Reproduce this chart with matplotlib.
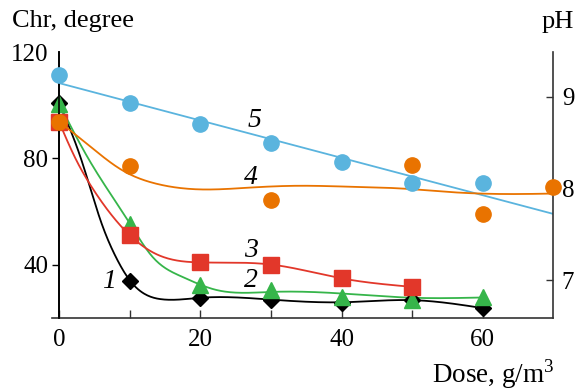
import numpy as np
import matplotlib
matplotlib.use("Agg")
import matplotlib.pyplot as plt

plt.rcParams['font.family'] = ['Liberation Serif', 'DejaVu Serif']
plt.rcParams['mathtext.fontset'] = 'custom'
plt.rcParams['mathtext.rm'] = 'Liberation Serif'

# measured points, Chr (left axis)
dose = [0, 10, 20, 30, 40, 50, 60]
chr1 = [100.7, 33.9, 27.3, 26.6, 25.6, 26.7, 23.5]
chr2 = [100.4, 55.4, 32.3, 30.4, 27.9, 26.6, 27.6]
dose3 = [0, 10, 20, 30, 40, 50]
chr3 = [93.5, 51.0, 40.8, 40.0, 34.8, 31.6]

# measured points, pH (right axis)
dose4 = [0, 10, 30, 50, 60, 70]
ph4 = [8.73, 8.243, 7.872, 8.254, 7.72, 8.02]
ph5 = [9.236, 8.934, 8.70, 8.497, 8.29, 8.055, 8.055]

# smoothed curves
c1_x = [0, 3, 6, 8, 10, 14.6, 20, 30, 40, 50, 60]
c1_y = [100.5, 80.4, 55.4, 42.9, 34, 26.9, 27.5, 26.8, 25.8, 26.6, 23.6]
c2_x = [0, 4, 10, 13.2, 17.4, 22, 30, 40, 50, 60]
c2_y = [100.4, 80.4, 55.4, 42.9, 35.4, 30.6, 29.7, 29.1, 27.5, 27.6]
c3_x = [0, 2.2, 4.9, 10, 13.6, 20, 30, 40, 50]
c3_y = [93.5, 80.4, 67.9, 51, 44.1, 40.8, 40, 34.8, 31.6]
c4_x = [0, 4.2, 8.9, 13.6, 20, 27, 34, 41, 48.5, 55.6, 62.7, 70]
c4_y = [8.73, 8.47, 8.20, 8.055, 7.99, 8.01, 8.03, 8.02, 8.0, 7.96, 7.94, 7.945]

labels = ['1', '2', '3', '4', '5']
label_pos = [(7.0, 33.5), (27.2, 34.1), (27.2, 45.4), (27.2, 72.9), (27.7, 94.4)]


def spline(xk, yk, n=400):
    # natural cubic spline
    xk = np.asarray(xk, float)
    yk = np.asarray(yk, float)
    h = np.diff(xk)
    m = len(xk)
    A = np.zeros((m, m))
    b = np.zeros(m)
    A[0, 0] = A[-1, -1] = 1
    for i in range(1, m - 1):
        A[i, i - 1] = h[i - 1]
        A[i, i] = 2 * (h[i - 1] + h[i])
        A[i, i + 1] = h[i]
        b[i] = 6 * ((yk[i + 1] - yk[i]) / h[i] - (yk[i] - yk[i - 1]) / h[i - 1])
    M = np.linalg.solve(A, b)
    xs = np.linspace(xk[0], xk[-1], n)
    j = np.clip(np.searchsorted(xk, xs) - 1, 0, m - 2)
    t0 = xk[j + 1] - xs
    t1 = xs - xk[j]
    hj = h[j]
    ys = (M[j] * t0**3 + M[j + 1] * t1**3) / (6 * hj) \
        + (yk[j] / hj - M[j] * hj / 6) * t0 + (yk[j + 1] / hj - M[j + 1] * hj / 6) * t1
    return xs, ys


black = '#000000'
green = '#36b54a'
red = '#e2372a'
orange = '#e97300'
blue = '#5ab4de'

fig = plt.figure(figsize=(5.77, 3.91), dpi=100)
ax = fig.add_axes([0.1028, 0.1875, 0.8564, 0.6795])
ax2 = ax.twinx()

lw = 1.3
ax.plot(*spline(c1_x, c1_y), color=black, lw=lw, zorder=2)
ax.plot(*spline(c2_x, c2_y), color=green, lw=lw, zorder=2)
ax.plot(*spline(c3_x, c3_y), color=red, lw=lw, zorder=2)
ax.plot(dose, chr1, 'D', color=black, ms=8.5, clip_on=False, zorder=3)
ax.plot(dose, chr2, '^', color=green, ms=11, clip_on=False, zorder=3)
ax.plot(dose3, chr3, 's', color=red, ms=11, clip_on=False, zorder=3)

fit = np.polyfit(dose, ph5, 1)
xl = np.array([0, 70])
ax2.plot(xl, np.polyval(fit, xl), color=blue, lw=lw, zorder=2)
ax2.plot(*spline(c4_x, c4_y), color=orange, lw=lw, zorder=2)
ax2.plot(dose, ph5, 'o', color=blue, ms=11, clip_on=False, zorder=3)
ax2.plot(dose4, ph4, 'o', color=orange, ms=11, clip_on=False, zorder=3)

for t, (x, y) in zip(labels, label_pos):
    ax.text(x, y, t, fontsize=20, style='italic', ha='center', va='center')

ax.set_xlim(0, 70)
ax.set_ylim(20, 120)
ax2.set_ylim(6.59, 9.49)

ax.set_xticks([0, 20, 40, 60])
ax.set_xticks([10, 30, 50], minor=True)
ax.set_yticks([40, 80, 120])
ax.set_yticks([120], minor=True)
ax2.set_yticks([7, 8, 9])

ax.tick_params(axis='x', which='both', direction='in', length=6, width=1,
               labelsize=18, pad=8, color='#333333')
ax.tick_params(axis='y', which='major', direction='out', length=5, width=1,
               labelsize=18, pad=3)
ax.tick_params(axis='y', which='minor', direction='in', length=5, width=1)
ax.yaxis.get_major_ticks()[2].tick1line.set_visible(False)
ax2.tick_params(axis='y', direction='in', length=5, width=1, labelsize=18,
                pad=6, color='#333333')

ax.spines['top'].set_visible(False)
ax2.spines['top'].set_visible(False)
ax2.spines['bottom'].set_visible(False)
ax.spines['right'].set_visible(False)
ax.spines['bottom'].set_bounds(-1.1, 70)
ax.spines['bottom'].set_color('#333333')
ax2.spines['right'].set_color('#333333')
for s in ax.spines.values():
    s.set_linewidth(1.2)
for s in ax2.spines.values():
    s.set_linewidth(1.2)

fig.text(12 / 577, 1 - 27 / 391, 'Chr, degree', fontsize=19, va='baseline')
fig.text(542 / 577, 1 - 28 / 391, 'pH', fontsize=19, va='baseline')
fig.text(432 / 577, 1 - 383 / 391, 'Dose, g/m$^3$', fontsize=19.5, va='baseline')

fig.savefig('out.png', dpi=100)
